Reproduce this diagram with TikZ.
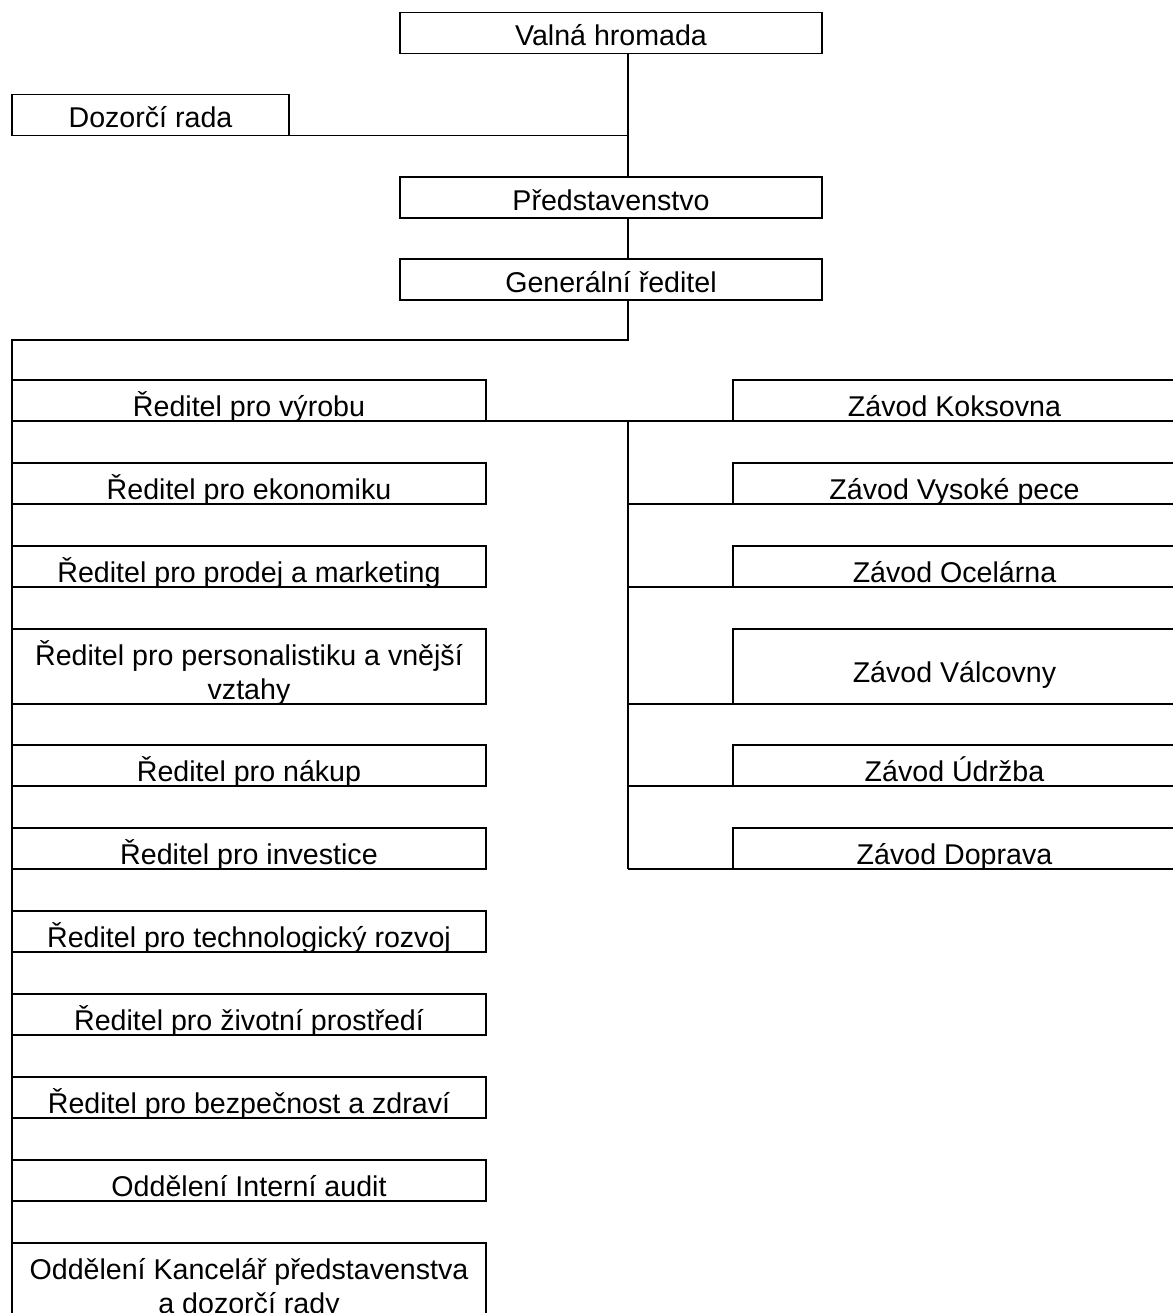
\documentclass[tikz,border=0pt]{standalone}
\usepackage{fontspec}
\setmainfont{Liberation Sans}
\usetikzlibrary{positioning}
\tikzstyle{orgbase}=[draw,rectangle,line width=0.8pt,inner sep=0pt,outer sep=0pt,
  font=\fontsize{14.3pt}{17pt}\selectfont]
\tikzstyle{org}=[orgbase,minimum height=20.5pt,text height=16.5pt,text depth=4pt]
\tikzstyle{orglow}=[orgbase,minimum height=20.5pt,text height=18pt,text depth=2.5pt]
\tikzstyle{orgtwo}=[orgbase,minimum height=37.5pt,align=center,
  text height=35pt,text depth=2.5pt]
\tikzstyle{board}=[minimum width=211pt]
\tikzstyle{dir}=[minimum width=237pt]
\tikzstyle{plant}=[minimum width=221.5pt]
\tikzstyle{conn}=[line width=0.8pt]

\begin{document}
\begin{tikzpicture}[x=0.5pt,y=-0.5pt]
\useasboundingbox (0,0) rectangle (1173,1313);
\clip (0,0) rectangle (1173,1313);
\coordinate (T) at (628,0);
\coordinate (ZC) at (954.5,0);
\coordinate (J) at (628,340);
\node[org,board] (VH) at (611,33) {Valná hromada};
\node[org,minimum width=138.5pt] (DR) at (150.5,115) {Dozorčí rada};
\node[org,board] (P) at (611,197.5) {Představenstvo};
\node[org,board] (G) at (611,279.5) {Generální ředitel};
\node[orglow,dir] (R1) at (249,400.5) {Ředitel pro výrobu};
\node[orglow,dir,below=21pt of R1] (R2) {Ředitel pro ekonomiku};
\node[orglow,dir,below=21pt of R2] (R3) {Ředitel pro prodej a marketing};
\node[orgtwo,dir,below=21pt of R3] (R4) {Ředitel pro personalistiku a vnější\\vztahy};
\node[orglow,dir,below=20.5pt of R4] (R5) {Ředitel pro nákup};
\node[orglow,dir,below=21pt of R5] (R6) {Ředitel pro investice};
\node[orglow,dir,below=21pt of R6] (R7) {Ředitel pro technologický rozvoj};
\node[orglow,dir,below=21pt of R7] (R8) {Ředitel pro životní prostředí};
\node[orglow,dir,below=21pt of R8] (R9) {Ředitel pro bezpečnost a zdraví};
\node[orglow,dir,below=21pt of R9] (R10) {Oddělení Interní audit};
\node[orgtwo,dir,below=21pt of R10] (R11) {Oddělení Kancelář představenstva\\a dozorčí rady};
\node[orglow,plant] (Z1) at (R1 -| ZC) {Závod Koksovna};
\node[orglow,plant] (Z2) at (R2 -| ZC) {Závod Vysoké pece};
\node[orglow,plant] (Z3) at (R3 -| ZC) {Závod Ocelárna};
\node[orglow,plant,minimum height=37.5pt] (Z4) at (R4 -| ZC) {Závod Válcovny};
\node[orglow,plant] (Z5) at (R5 -| ZC) {Závod Údržba};
\node[orglow,plant] (Z6) at (R6 -| ZC) {Závod Doprava};
\draw[conn] (VH.south -| T) -- (P.north -| T);
\draw[conn] (DR.south east) -- (DR.south east -| T);
\draw[conn] (P.south -| T) -- (G.north -| T);
\draw[conn] (G.south -| T) -- (J) -| (R11.south west);
\draw[conn] (R1.south east) -- (Z1.south west);
\draw[conn] (R1.south east -| T) -- (Z6.south west -| T);
\foreach \z in {Z2,Z3,Z4,Z5,Z6}
  \draw[conn] (\z.south west -| T) -- (\z.south west);
\end{tikzpicture}
\end{document}
